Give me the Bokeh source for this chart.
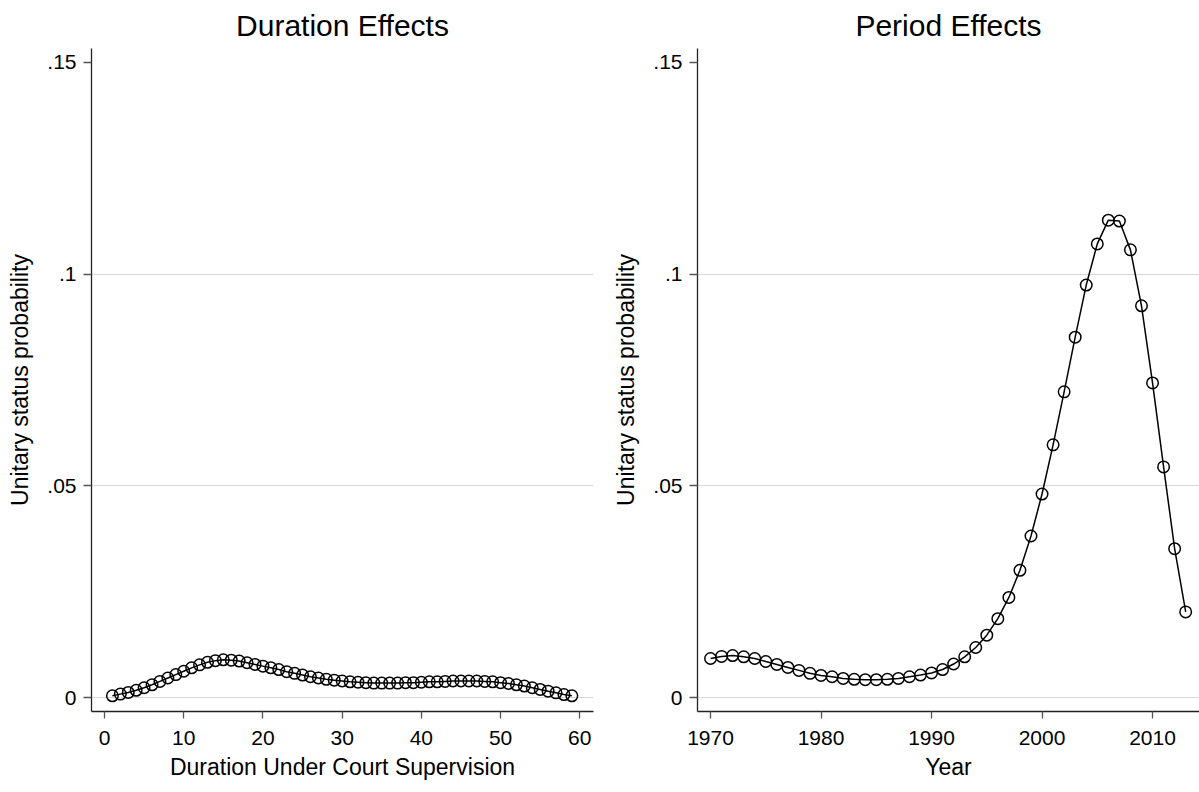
from bokeh.plotting import figure
from bokeh.layouts import row
from bokeh.models import FixedTicker, CustomJSTickFormatter, Range1d
from bokeh.embed import file_html
from bokeh.resources import INLINE

# ---- data ----
duration = list(range(1, 60))
duration_prob = [
    0.0005, 0.0009, 0.0013, 0.0018, 0.0024, 0.0031, 0.0039, 0.0047, 0.0055, 0.0063,
    0.0071, 0.0078, 0.0084, 0.0088, 0.0090, 0.0089, 0.0087, 0.0083, 0.0079, 0.0075,
    0.0071, 0.0067, 0.0062, 0.0058, 0.0054, 0.0050, 0.0047, 0.0044, 0.0042, 0.0040,
    0.0038, 0.0037, 0.0036, 0.0035, 0.0035, 0.0035, 0.0035, 0.0036, 0.0036, 0.0037,
    0.0038, 0.0038, 0.0039, 0.0040, 0.0040, 0.0040, 0.0040, 0.0039, 0.0038, 0.0036,
    0.0034, 0.0031, 0.0028, 0.0024, 0.0020, 0.0016, 0.0012, 0.0008, 0.0005,
]

year = list(range(1970, 2014))
period_prob = [
    0.0093, 0.0098, 0.0100, 0.0097, 0.0093, 0.0086, 0.0079, 0.0072, 0.0065, 0.0058,
    0.0053, 0.0050, 0.0046, 0.0044, 0.0043, 0.0043, 0.0044, 0.0046, 0.0050, 0.0054,
    0.0059, 0.0067, 0.0080, 0.0097, 0.0119, 0.0148, 0.0187, 0.0237, 0.0301, 0.0382,
    0.0481, 0.0597, 0.0722, 0.0851, 0.0974, 0.1071, 0.1127, 0.1125, 0.1057, 0.0925,
    0.0743, 0.0545, 0.0352, 0.0203,
]

y_ticks = [0, 0.05, 0.1, 0.15]
y_grid = [0, 0.05, 0.1]
dur_ticks = [0, 10, 20, 30, 40, 50, 60]
year_ticks = [1970, 1980, 1990, 2000, 2010]

FONT = "Liberation Sans"

fmt = CustomJSTickFormatter(code="""
if (Math.abs(tick) < 1e-9) return "0";
let s = tick.toFixed(2).replace(/0+$/, "").replace(/\\.$/, "");
return s.replace(/^0\\./, ".");
""")


def make(title, xlab, xr, xticks, xs, ys, width, bl, br):
    p = figure(width=width, height=792, output_backend="svg", toolbar_location=None,
               x_range=Range1d(*xr), y_range=Range1d(-0.0032, 0.1532),
               min_border_left=bl, min_border_right=br, min_border_top=48,
               min_border_bottom=81)
    p.outline_line_color = None
    p.background_fill_color = "white"
    p.border_fill_color = "white"
    p.title.text = title
    p.title.align = "center"
    p.title.text_font = FONT
    p.title.text_font_size = "30px"
    p.title.text_font_style = "normal"
    p.title.text_color = "black"
    p.title.standoff = 13

    p.line(xs, ys, line_color="black", line_width=1.5)
    p.scatter(xs, ys, marker="circle", size=11.5, fill_color=None,
              line_color="black", line_width=1.5)

    for ax in (p.xaxis[0], p.yaxis[0]):
        ax.axis_line_color = "#222222"
        ax.axis_line_width = 1.3
        ax.major_tick_line_color = "#555555"
        ax.major_tick_line_width = 1.3
        ax.major_tick_in = 0
        ax.major_tick_out = 8
        ax.minor_tick_line_color = None
        ax.major_label_text_font = FONT
        ax.major_label_text_font_size = "21px"
        ax.major_label_text_color = "black"
        ax.axis_label_text_font = FONT
        ax.axis_label_text_font_size = "23px"
        ax.axis_label_text_font_style = "normal"
        ax.axis_label_text_color = "black"

    p.xaxis.ticker = FixedTicker(ticks=xticks)
    p.xaxis.axis_label = xlab
    p.xaxis.major_label_standoff = 12
    p.xaxis.axis_label_standoff = 6
    p.xaxis.major_tick_out = 7

    p.yaxis.ticker = FixedTicker(ticks=y_ticks)
    p.yaxis.formatter = fmt
    p.yaxis.axis_label = "Unitary status probability"
    p.yaxis.major_label_orientation = "horizontal"
    p.yaxis.major_label_standoff = 7
    p.yaxis.axis_label_standoff = 11

    p.xgrid.visible = False
    p.ygrid.ticker = FixedTicker(ticks=y_grid)
    p.ygrid.grid_line_color = "#d6d6d6"
    p.ygrid.grid_line_width = 1
    return p


p1 = make("Duration Effects", "Duration Under Court Supervision", (-1.64, 61.73),
          dur_ticks, duration, duration_prob, 600, 91, 7)
p2 = make("Period Effects", "Year", (1968.82, 2014.25),
          year_ticks, year, period_prob, 599, 97, 0)

layout = row(p1, p2)
open("out.html", "w").write(file_html(layout, INLINE))
